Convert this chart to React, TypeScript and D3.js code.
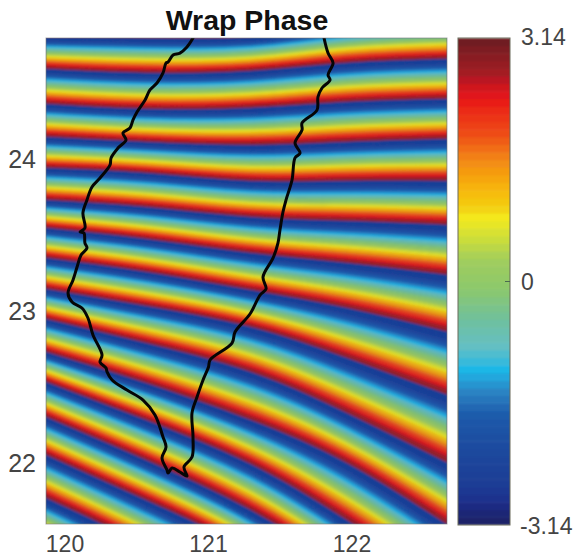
import React from "react";
import * as d3 from "d3";

const title = "Wrap Phase";
const lonTicks = [120, 121, 122];
const latTicks = [22, 23, 24];
const phaseTicks = [-3.14, 0, 3.14];
const phaseTickLabels = ["-3.14", "0", "3.14"];

const fringeLons = [119.865, 120.56, 121.29, 121.96, 122.665];

// Latitude of each phase jump (+pi to -pi) at the longitudes above
const fringeLats = [
  [25.013, 25.013, 25.007, 25.112, 25.178],
  [24.803, 24.796, 24.803, 24.875, 24.914],
  [24.592, 24.566, 24.579, 24.632, 24.658],
  [24.362, 24.329, 24.336, 24.375, 24.395],
  [24.145, 24.112, 24.092, 24.112, 24.132],
  [23.941, 23.908, 23.855, 23.855, 23.855],
  [23.73, 23.684, 23.618, 23.592, 23.566],
  [23.546, 23.474, 23.382, 23.316, 23.237],
  [23.349, 23.257, 23.138, 23.02, 22.862],
  [23.145, 23.033, 22.895, 22.691, 22.447],
  [22.947, 22.789, 22.599, 22.329, 22.0],
  [22.73, 22.526, 22.283, 22.0, 21.592],
  [22.533, 22.283, 21.993, 21.625, 21.197],
  [22.303, 22.02, 21.691, 21.296, 20.835],
  [22.053, 21.757, 21.414, 20.967, 20.507],
  [21.77, 21.46, 21.099, 20.704, 20.243],
  [21.493, 21.164, 20.803, 20.408, 19.914],
];

const coastline: [number, number][] = [
  [120.892, 24.796], [120.85, 24.737], [120.801, 24.697], [120.753, 24.684], [120.718, 24.638],
  [120.704, 24.632], [120.683, 24.566], [120.641, 24.5], [120.592, 24.454], [120.558, 24.388],
  [120.502, 24.309], [120.474, 24.257], [120.453, 24.204], [120.404, 24.171], [120.425, 24.125],
  [120.369, 24.072], [120.321, 24.007], [120.314, 23.961], [120.244, 23.875], [120.188, 23.816],
  [120.153, 23.73], [120.125, 23.645], [120.139, 23.546], [120.105, 23.52], [120.132, 23.513],
  [120.139, 23.447], [120.153, 23.414], [120.112, 23.368], [120.084, 23.289], [120.056, 23.204],
  [120.021, 23.118], [120.049, 23.059], [120.118, 23.02], [120.16, 22.954], [120.195, 22.842],
  [120.258, 22.711], [120.244, 22.664], [120.286, 22.625], [120.293, 22.599], [120.328, 22.546],
  [120.432, 22.48], [120.544, 22.414], [120.627, 22.316], [120.683, 22.171], [120.704, 22.105],
  [120.676, 22.033], [120.711, 21.954], [120.718, 21.934], [120.746, 21.967], [120.801, 21.941],
  [120.85, 21.914], [120.829, 21.974], [120.885, 22.039], [120.892, 22.171], [120.885, 22.329],
  [120.92, 22.434], [120.962, 22.546], [121.0, 22.632], [121.011, 22.678], [121.164, 22.789],
  [121.185, 22.862], [121.289, 22.98], [121.359, 23.105], [121.401, 23.145], [121.38, 23.224],
  [121.45, 23.349], [121.484, 23.447], [121.498, 23.533], [121.519, 23.651], [121.54, 23.73],
  [121.582, 23.862], [121.603, 24.007], [121.638, 24.039], [121.603, 24.105], [121.652, 24.191],
  [121.652, 24.237], [121.756, 24.322], [121.763, 24.408], [121.791, 24.467], [121.847, 24.52],
  [121.833, 24.553], [121.868, 24.632], [121.833, 24.697], [121.805, 24.796],
];

// Colour bar: fraction of the range and its colour
const colorPositions = [0, 0.049, 0.076, 0.143, 0.225, 0.275, 0.318, 0.363, 0.418, 0.486, 0.543, 0.584, 0.631, 0.652, 0.693, 0.748, 0.803, 0.865, 0.891, 0.932, 1];
const colorValues = ["#1c2260", "#1f2d8b", "#193c94", "#1f479c", "#1d5aaa", "#2d84c4", "#1ab7e8", "#63bfc6", "#6ec0a0", "#8cc86b", "#a0cd5e", "#c8dc3c", "#f4ea1f", "#f3cf12", "#f7b40f", "#f38a13", "#ee4c19", "#ea2019", "#db111a", "#a01e25", "#6a1b20"];
const LEVELS = 64;

const W = 574;
const H = 558;
const plot = { left: 46, right: 447, top: 38, bottom: 524 };
const bar = { left: 458, right: 510, top: 38, bottom: 525 };

const x = d3.scaleLinear().domain([120, 121]).range([65, 208.5]);
const y = d3.scaleLinear().domain([24, 22]).range([159, 463]);
const colormap = d3.scaleLinear<string>().domain(colorPositions).range(colorValues).interpolate(d3.interpolateRgb);
const phaseY = d3.scaleLinear().domain([-3.14, 3.14]).range([bar.bottom, bar.top]);

const levelArea = d3
  .area<number>()
  .x((_, i) => x(fringeLons[i]))
  .curve(d3.curveNatural);

const coastPath = d3
  .line<[number, number]>()
  .x((d) => x(d[0]))
  .y((d) => y(d[1]))
  .curve(d3.curveCatmullRom.alpha(0.5));

const FONT = "'Liberation Sans', Arial, sans-serif";
const TICK = "#444";

function Bands() {
  const paths: React.ReactElement[] = [];
  for (let k = 0; k < fringeLats.length - 1; k++) {
    const upper = fringeLats[k];
    const lower = fringeLats[k + 1];
    for (let j = 0; j < LEVELS; j++) {
      const a = j / LEVELS;
      const b = (j + 1) / LEVELS;
      const top = upper.map((v, i) => y(v + (lower[i] - v) * a));
      const bottom = upper.map((v, i) => y(v + (lower[i] - v) * b));
      const d = levelArea.y0((_, i) => top[i]).y1((_, i) => bottom[i])(top) as string;
      const c = colormap(Math.min(0.94, Math.max(0.1, (j + 0.5) / LEVELS)));
      paths.push(<path key={`${k}-${j}`} d={d} fill={c} stroke={c} strokeWidth={0.4} />);
    }
  }
  return <>{paths}</>;
}

export default function App() {
  const barRows = d3.range(LEVELS);
  const rowH = (bar.bottom - bar.top) / LEVELS;
  return (
    <svg width={W} height={H} viewBox={`0 0 ${W} ${H}`} style={{ position: "absolute", left: 0, top: 0, background: "#fff" }}>
      <defs>
        <clipPath id="plotClip">
          <rect x={plot.left} y={plot.top} width={plot.right - plot.left} height={plot.bottom - plot.top} />
        </clipPath>
        <clipPath id="barClip">
          <rect x={bar.left} y={bar.top} width={bar.right - bar.left} height={bar.bottom - bar.top} />
        </clipPath>
        <filter id="soft" x="-2%" y="-2%" width="104%" height="104%">
          <feGaussianBlur stdDeviation="0.8" />
        </filter>
      </defs>
      <g clipPath="url(#plotClip)">
        <rect x={plot.left} y={plot.top} width={plot.right - plot.left} height={plot.bottom - plot.top} fill="#1f479c" />
        <g filter="url(#soft)">
          <Bands />
        </g>
        <path d={coastPath(coastline) as string} fill="none" stroke="#050505" strokeWidth={3} strokeLinejoin="round" strokeLinecap="round" />
      </g>
      <rect x={plot.left} y={plot.top} width={plot.right - plot.left} height={plot.bottom - plot.top} fill="none" stroke="#7a7a7a" strokeOpacity={0.6} strokeWidth={1} />

      <g clipPath="url(#barClip)">
        <g filter="url(#soft)">
          {barRows.map((i) => (
            <rect key={i} x={bar.left - 4} y={bar.bottom - (i + 1) * rowH} width={bar.right - bar.left + 8} height={rowH + 0.5} fill={colormap((i + 0.5) / LEVELS)} />
          ))}
        </g>
      </g>
      <rect x={bar.left} y={bar.top} width={bar.right - bar.left} height={bar.bottom - bar.top} fill="none" stroke="#6a6a5a" strokeWidth={1} />
      <line x1={bar.right - 5} x2={bar.right} y1={phaseY(0)} y2={phaseY(0)} stroke="#4a6a50" strokeWidth={1} />

      <text x={247} y={30} textAnchor="middle" fontFamily={FONT} fontWeight="bold" fontSize={28.5} fill="#111">{title}</text>

      {lonTicks.map((t) => (
        <text key={t} x={x(t)} y={552} textAnchor="middle" fontFamily={FONT} fontSize={23} fill={TICK}>{t}</text>
      ))}
      {latTicks.map((t) => (
        <text key={t} x={36} y={y(t) + 9} textAnchor="end" fontFamily={FONT} fontSize={25} fill={TICK}>{t}</text>
      ))}
      {phaseTicks.map((t, i) => (
        <text key={t} x={i === 0 ? 520 : 521} y={i === 0 ? 534 : phaseY(t) + (i === 2 ? 7 : 8)} fontFamily={FONT} fontSize={23} fill={TICK}>{phaseTickLabels[i]}</text>
      ))}
    </svg>
  );
}
